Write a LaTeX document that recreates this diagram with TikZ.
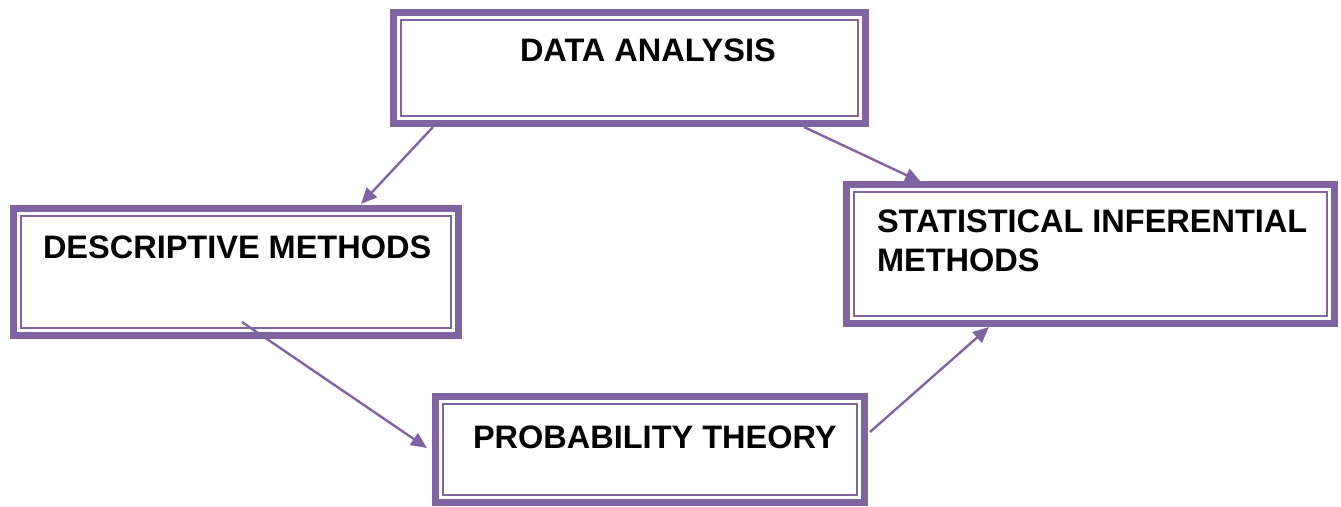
\documentclass[tikz,border=0pt]{standalone}
\usepackage{fontspec}
\setmainfont{Liberation Sans}
\usetikzlibrary{arrows.meta}
\definecolor{accent}{HTML}{8064A2}
\tikzset{
  box/.style={draw=accent, line width=7pt, rectangle, inner sep=0pt, outer sep=0pt},
  rim/.style={draw=accent, line width=2pt},
  label/.style={inner sep=0pt, outer sep=0pt, font=\bfseries\fontsize{32.5}{39}\selectfont, align=left},
  link/.style={draw=accent, line width=2.4pt, -{Triangle[length=16pt,width=14pt]}}
}
\begin{document}
\begin{tikzpicture}[x=1pt, y=-1pt]
  \useasboundingbox (0,0) rectangle (1341,506);

  % framed boxes: thick outer rule and thin inner rule
  \node[box, minimum width=472pt, minimum height=111pt] (data) at (629.5,68) {};
  \node[box, minimum width=445pt, minimum height=127pt] (desc) at (236,272) {};
  \node[box, minimum width=488pt, minimum height=139pt] (infer) at (1090.5,254) {};
  \node[box, minimum width=429pt, minimum height=106pt] (prob) at (650,449.5) {};
  \foreach \b in {data,desc,infer,prob}
    \draw[rim] ([shift={(7.5,7.5)}]\b.north west) rectangle ([shift={(-7.5,-7.5)}]\b.south east);

  % titles
  \node[label, anchor=base west] (tdata) at (520,61) {DATA ANALYSIS};
  \node[label, anchor=base west] (tdesc) at (43,258) {DESCRIPTIVE METHODS};
  \node[label, anchor=north west] (tinfer) at (877,210) {STATISTICAL INFERENTIAL\\METHODS};
  \node[label, anchor=base west] (tprob) at (473,448) {PROBABILITY THEORY};

  % connector end points
  \coordinate (a1) at (433,127);
  \coordinate (a2) at (361,204);
  \coordinate (b1) at (804,127);
  \coordinate (b2) at (921,182);
  \coordinate (c1) at (242,322);
  \coordinate (c2) at (427,448);
  \coordinate (d1) at (870,432);
  \coordinate (d2) at (989,327);

  \draw[link] (a1) -- (a2);
  \draw[link] (b1) -- (b2);
  \draw[link] (c1) -- (c2);
  \draw[link] (d1) -- (d2);
\end{tikzpicture}
\end{document}
